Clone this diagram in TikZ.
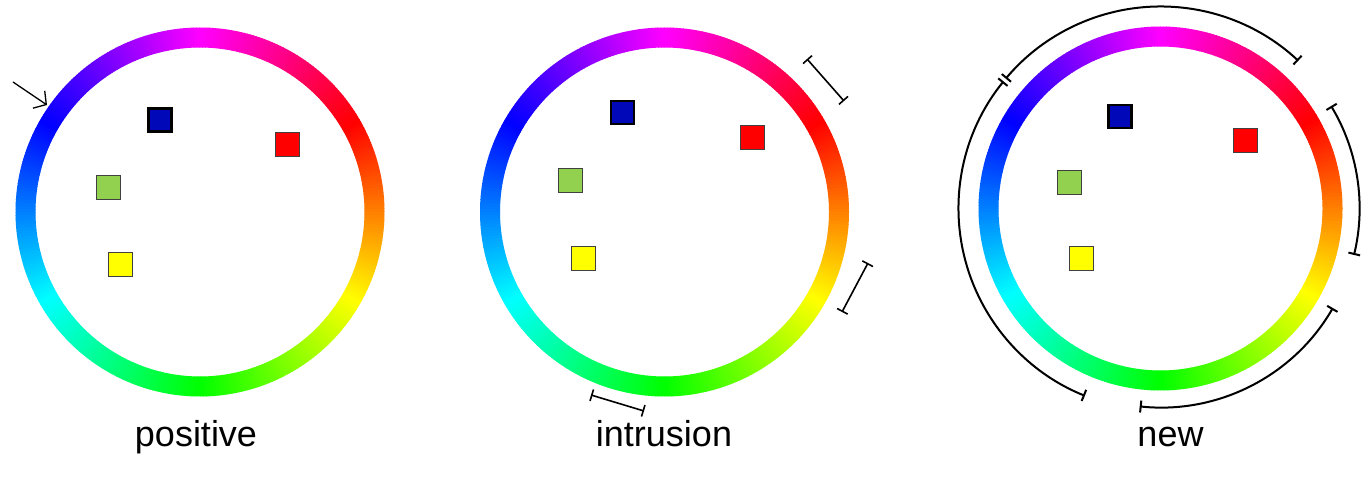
\documentclass[tikz,border=0pt]{standalone}
\usepackage{fontspec}
\setmainfont{Liberation Sans}
\usetikzlibrary{arrows.meta,calc}
\definecolor{sqblue}{RGB}{0,8,184}
\definecolor{sqred}{RGB}{255,0,0}
\definecolor{sqgreen}{RGB}{146,208,80}
\definecolor{sqyellow}{RGB}{255,255,0}
\newcommand\huering[4]{%
  \begin{scope}[shift={(#1,#2)}]
    \foreach \a in {0,...,359}{
      \pgfmathsetmacro\hh{mod(390-\a-0.5,360)}
      \definecolor{ringc}{Hsb}{\hh,1,1}
      \fill[ringc] (\a:#3) -- (\a:#4) -- (\a+1.2:#4) -- (\a+1.2:#3) -- cycle;
    }
  \end{scope}}
\begin{document}
\begin{tikzpicture}[x=1pt,y=1pt,
  sq/.style={minimum size=24pt, inner sep=0pt, draw=black!75, line width=1pt},
  bsq/.style={sq, draw=black, line width=2.5pt, minimum size=23pt},
  lbl/.style={anchor=base, inner sep=0pt, font=\fontsize{36}{43}\selectfont},
  brk/.style={line width=1.6pt, {Bar[width=12pt]}-{Bar[width=12pt]}},
  arcb/.style={line width=2pt, {Bar[width=12pt]}-{Bar[width=12pt]}},
  arr/.style={line width=1.3pt, -{Straight Barb[length=9pt, width=21pt]}}]
\useasboundingbox[fill=white] (0,0) rectangle (1370,480);
% wheels
\huering{200}{268}{164.5}{184.5}
\huering{664.5}{268}{164.5}{184.5}
\huering{1160.5}{271.5}{162}{182}
\coordinate (c1) at (200,268);
\coordinate (c2) at (664.5,268);
\coordinate (c3) at (1160.5,271.5);
% squares wheel 1
\node[bsq, fill=sqblue] (b1) at (160,360) {};
\node[sq, fill=sqred] (r1) at (287.5,335) {};
\node[sq, fill=sqgreen] (g1) at (108.5,292) {};
\node[sq, fill=sqyellow] (y1) at (120.5,216) {};
% squares wheel 2
\node[bsq, fill=sqblue] (b2) at (622.5,367.5) {};
\node[sq, fill=sqred] (r2) at (752,342) {};
\node[sq, fill=sqgreen] (g2) at (570,299) {};
\node[sq, fill=sqyellow] (y2) at (583,222) {};
% squares wheel 3
\node[bsq, fill=sqblue] (b3) at (1120,363.5) {};
\node[sq, fill=sqred] (r3) at (1245.5,339.5) {};
\node[sq, fill=sqgreen] (g3) at (1069.5,297) {};
\node[sq, fill=sqyellow] (y3) at (1081.5,222) {};
% arrow on wheel 1
\coordinate (at) at (13,398);
\coordinate (ah) at (47,375);
\draw[arr] (at) -- (ah);
% brackets on wheel 2
\coordinate (k1a) at (807,421);
\coordinate (k1b) at (844,379);
\coordinate (k2a) at (868,217);
\coordinate (k2b) at (842,168);
\coordinate (k3a) at (591,85);
\coordinate (k3b) at (644,69);
\draw[brk] (k1a) -- (k1b);
\draw[brk] (k2a) -- (k2b);
\draw[brk] (k3a) -- (k3b);
% arcs on wheel 3
\coordinate (pa) at ($(c3)+(47:202)$);
\coordinate (pb) at ($(c3)+(141:202)$);
\coordinate (pc) at ($(c3)+(31:199)$);
\coordinate (pd) at ($(c3)+(-30:199)$);
\draw[arcb] (pa) arc[start angle=47, end angle=140, radius=202];
\draw[arcb] (pb) arc[start angle=141, end angle=248, radius=202];
\draw[arcb] (pc) arc[start angle=31, end angle=-13.5, radius=199];
\draw[arcb] (pd) arc[start angle=-30, end angle=-96, radius=199];
% labels
\node[lbl] (l1) at (196,34) {positive};
\node[lbl] (l2) at (664,34) {intrusion};
\node[lbl] (l3) at (1170.5,34) {new};
\end{tikzpicture}
\end{document}
